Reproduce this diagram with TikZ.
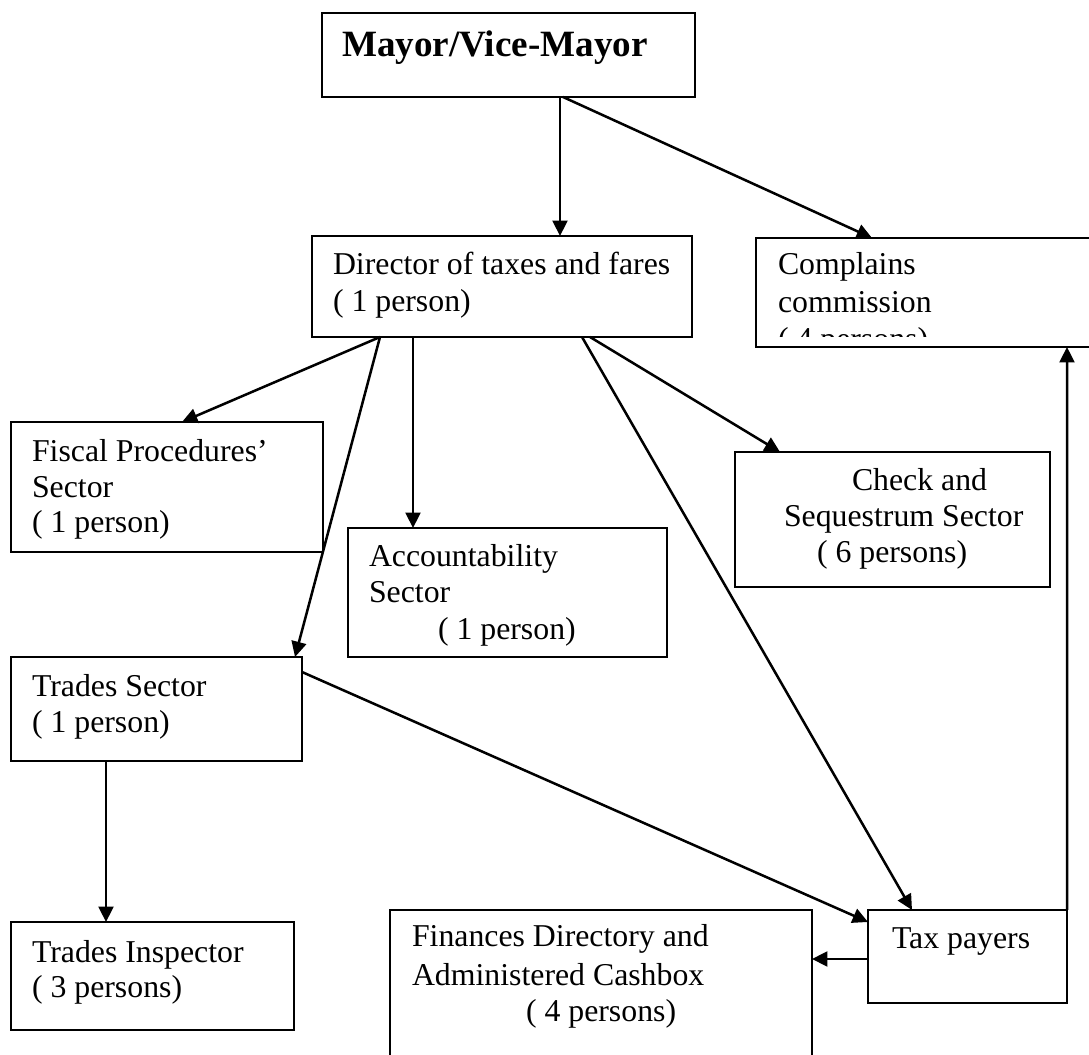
\documentclass[tikz,border=0pt]{standalone}
\usepackage{fontspec}
\setmainfont{Liberation Serif}
\usetikzlibrary{arrows.meta,calc}
\begin{document}
\begin{tikzpicture}[x=0.3774pt,y=-0.3774pt,
  pbox/.style n args={2}{draw, line width=0.85pt, rectangle, inner sep=0pt, outer sep=0pt,
     minimum width=#1*0.3774pt, minimum height=#2*0.3774pt, anchor=north west},
  txt/.style={anchor=base west, inner sep=0pt, outer sep=0pt, font=\fontsize{12}{14}\selectfont},
  arr/.style={line width=0.95pt, -{Triangle[length=5.8pt,width=5.6pt]}}]
\useasboundingbox (0,0) rectangle (1089,1055);
\clip (0,0) rectangle (1089,1055);
% boxes
\node[pbox={373}{84}]  (mayor)  at (322,13)  {};
\node[pbox={380}{101}] (dir)    at (312,236) {};
\node[pbox={350}{109}] (comp)   at (756,238) {};
\node[pbox={312}{130}] (fiscal) at (11,422)  {};
\node[pbox={319}{129}] (acc)    at (348,528) {};
\node[pbox={315}{135}] (check)  at (735,452) {};
\node[pbox={291}{104}] (trades) at (11,657)  {};
\node[pbox={283}{108}] (insp)   at (11,922)  {};
\node[pbox={422}{200}] (fin)    at (390,910) {};
\node[pbox={199}{93}]  (tax)    at (868,910) {};
% texts
\node[txt, font=\fontsize{14}{16}\selectfont\bfseries] (mayor-t) at (342,57) {Mayor/Vice-Mayor};
\node[txt] (dir-t1) at (333,275) {Director of taxes and fares};
\node[txt] (dir-t2) at (333,312) {( 1 person)};
\node[txt] (comp-t1) at (778,275) {Complains};
\node[txt] (comp-t2) at (778,313) {commission};
\begin{scope}
  \clip (756,238) rectangle (1089,337);
  \node[txt] (comp-t3) at (778,350) {( 4 persons)};
\end{scope}
\node[txt] (fiscal-t1) at (32,462) {Fiscal Procedures’};
\node[txt] (fiscal-t2) at (32,498) {Sector};
\node[txt] (fiscal-t3) at (32,533) {( 1 person)};
\node[txt] (acc-t1) at (369,567) {Accountability};
\node[txt] (acc-t2) at (369,603) {Sector};
\node[txt] (acc-t3) at (438,640) {( 1 person)};
\node[txt] (check-t1) at (852,491) {Check and};
\node[txt] (check-t2) at (784,527) {Sequestrum Sector};
\node[txt] (check-t3) at (817,563) {( 6 persons)};
\node[txt] (trades-t1) at (32,697) {Trades Sector};
\node[txt] (trades-t2) at (32,733) {( 1 person)};
\node[txt] (insp-t1) at (32,963) {Trades Inspector};
\node[txt] (insp-t2) at (32,998) {( 3 persons)};
\node[txt] (fin-t1) at (412,947) {Finances Directory and};
\node[txt] (fin-t2) at (412,986) {Administered Cashbox};
\node[txt] (fin-t3) at (526,1022) {( 4 persons)};
\node[txt] (tax-t1) at (892,949) {Tax payers};
% connectors
\draw[arr] ($(mayor.south west)+(238,0)$) -- ($(dir.north west)+(248,0)$);
\draw[arr] ($(mayor.south west)+(241,0)$) -- ($(comp.north west)+(116,0)$);
\draw[arr] ($(dir.south west)+(68,0)$) -- ($(fiscal.north west)+(171,0)$);
\draw[arr] ($(dir.south west)+(68,0)$) -- ($(trades.north west)+(284,0)$);
\draw[arr] ($(dir.south west)+(101,0)$) -- ($(acc.north west)+(65,0)$);
\draw[arr] ($(dir.south west)+(270,0)$) -- ($(tax.north west)+(44,0)$);
\draw[arr] ($(dir.south west)+(278,0)$) -- ($(check.north west)+(45,0)$);
\draw[arr] ($(trades.south west)+(95,0)$) -- ($(insp.north west)+(95,0)$);
\draw[arr] ($(trades.north east)+(0,15)$) -- ($(tax.north west)+(0,12)$);
\draw[arr] ($(tax.north west)+(0,49)$) -- ($(fin.north east)+(0,49)$);
\draw[arr] (tax.north east) -- ($(comp.south west)+(311,0)$);
\end{tikzpicture}
\end{document}
